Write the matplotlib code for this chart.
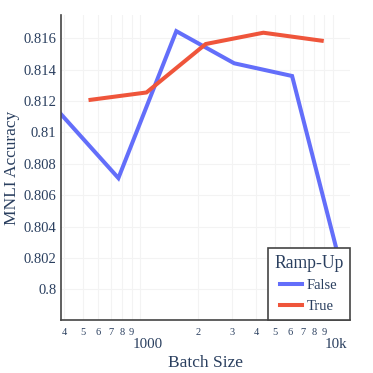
import matplotlib
matplotlib.use('Agg')
import matplotlib.pyplot as plt
from matplotlib.ticker import FixedLocator

# Data
batch_false = [384, 768, 1536, 3072, 6144, 12288]
acc_false = [0.8112, 0.80709, 0.81646, 0.81441, 0.8136, 0.7992]

batch_true = [550, 1075, 2185, 4355, 8760]
acc_true = [0.81208, 0.81255, 0.81564, 0.81636, 0.81585]

y_ticks = [0.8, 0.802, 0.804, 0.806, 0.808, 0.81, 0.812, 0.814, 0.816]
y_labels = ['0.8', '0.802', '0.804', '0.806', '0.808', '0.81', '0.812', '0.814', '0.816']
x_major = [1000, 10000]
x_major_labels = ['1000', '10k']
x_minor = [400, 500, 600, 700, 800, 900, 2000, 3000, 4000, 5000, 6000, 7000, 8000, 9000]
x_minor_labels = ['4', '5', '6', '7', '8', '9', '2', '3', '4', '5', '6', '7', '8', '9']

TXT = '#2a3f5f'
plt.rcParams['font.family'] = ['Liberation Serif', 'DejaVu Serif']

W, H = 373, 373
fig = plt.figure(figsize=(W / 100, H / 100), dpi=100)
left, right, top, bottom = 60.5, 350, 15, 320
ax = fig.add_axes([left / W, 1 - bottom / H, (right - left) / W, (bottom - top) / H])

ax.plot(batch_false, acc_false, color='#636efa', lw=2.9, label='False', solid_joinstyle='miter')
ax.plot(batch_true, acc_true, color='#EF553B', lw=2.9, label='True', solid_joinstyle='miter')

ax.set_xscale('log')
ax.set_xlim(384, 12288)
ax.set_ylim(0.79804, 0.81749)

ax.set_yticks(y_ticks)
ax.set_yticklabels(y_labels, fontsize=10.5, color=TXT)
ax.tick_params(axis='y', length=0, pad=3)

ax.xaxis.set_major_locator(FixedLocator(x_major))
ax.set_xticklabels(x_major_labels, fontsize=10.8, color=TXT)
ax.set_xticks(x_minor, minor=True)
ax.set_xticklabels(x_minor_labels, minor=True, fontsize=7.5, color=TXT)
ax.tick_params(axis='x', which='major', length=0, pad=13)
ax.tick_params(axis='x', which='minor', length=0, pad=6)
# plotly puts the big labels a little right of their grid line
for lab in ax.get_xticklabels():
    lab.set_horizontalalignment('left')
    lab.set_x(lab.get_position()[0])
import matplotlib.transforms as mtransforms
shift = mtransforms.ScaledTranslation(-8 / 100, 0, fig.dpi_scale_trans)
for lab in ax.get_xticklabels():
    lab.set_transform(lab.get_transform() + shift)

ax.grid(True, which='both', axis='x', color='#f3f3f3', lw=0.8)
ax.grid(True, which='major', axis='y', color='#f3f3f3', lw=0.8)
ax.set_axisbelow(True)

for s in ['top', 'right']:
    ax.spines[s].set_visible(False)
for s in ['left', 'bottom']:
    ax.spines[s].set_color('#444444')
    ax.spines[s].set_linewidth(1.2)

fig.text(205 / W, 1 - 363 / H, 'Batch Size', fontsize=12.5, color=TXT, ha='center', va='center')
fig.text(12.5 / W, 1 - 167.5 / H, 'MNLI Accuracy', fontsize=12.5, color=TXT,
         ha='center', va='center', rotation=90)

leg = ax.legend(title='Ramp-Up', loc='lower right', bbox_to_anchor=(1.0, 0.0),
                fontsize=10.5, title_fontsize=12.7, frameon=True, fancybox=False,
                handlelength=1.5, handletextpad=0.35, borderpad=0.45, labelspacing=0.55,
                borderaxespad=0)
leg._legend_box.sep = 5
leg.get_frame().set_edgecolor('#444444')
leg.get_frame().set_linewidth(1.2)
leg.get_frame().set_alpha(1)
for t in leg.get_texts():
    t.set_color(TXT)
leg.get_title().set_color(TXT)

fig.savefig('out.png', dpi=100)
